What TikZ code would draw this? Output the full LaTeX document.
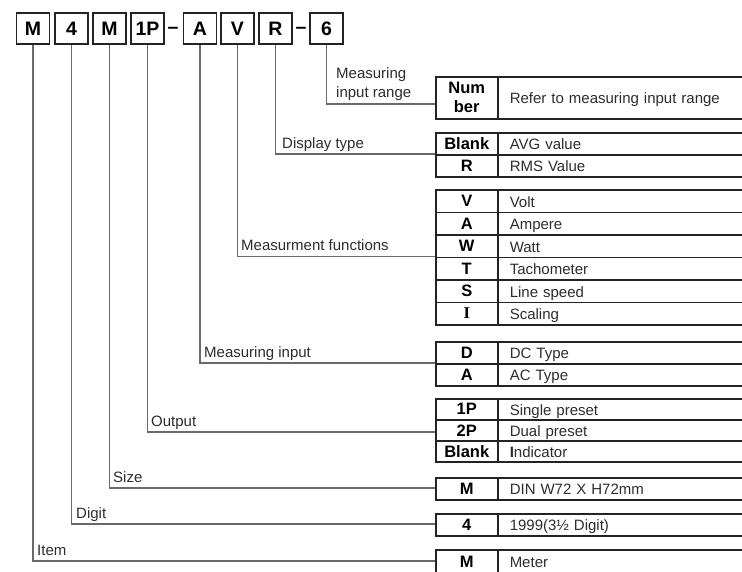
\documentclass[tikz,border=0pt]{standalone}
\usepackage{fontspec}
\setmainfont{Liberation Sans}
\newfontfamily\serifI{Liberation Serif}
\usepackage{tikz}
\usetikzlibrary{positioning}
\definecolor{leadgray}{RGB}{105,105,105}
\definecolor{rulegray}{RGB}{35,35,35}
\definecolor{txtgray}{RGB}{45,45,45}
\tikzset{
  keybox/.style={shape=rectangle,draw=rulegray,line width=1.2pt,minimum width=33pt,minimum height=31pt,inner sep=0pt,font=\bfseries\fontsize{19.5}{20}\selectfont},
  keydash/.style={anchor=base,inner sep=0pt,font=\bfseries\fontsize{19.5}{20}\selectfont},
  codecell/.style={shape=rectangle,draw=rulegray,line width=1.5pt,anchor=north west,minimum width=62pt,inner sep=0pt,align=center,font=\bfseries\fontsize{16.5}{19}\selectfont},
  desccell/.style={shape=rectangle,draw=rulegray,line width=1.5pt,anchor=north west,text width=260pt,text height=13pt,text depth=1pt,inner xsep=12pt,inner ysep=0pt,align=left,text=txtgray,font=\fontsize{15}{17}\selectfont},
  lead/.style={draw=leadgray,line width=1.2pt},
  caption/.style={anchor=base west,inner sep=0pt,text=txtgray,font=\fontsize{15}{19}\selectfont},
}

\begin{document}
\begin{tikzpicture}[x=1pt,y=-1pt]

\useasboundingbox[fill=white] (0,0) rectangle (742,571);

% model code
\node[keybox] (kItem) at (33,28.5) {M};
\node[keybox] (kDigit) at (71.5,28.5) {4};
\node[keybox] (kSize) at (109.5,28.5) {M};
\node[keybox] (kOut) at (147.5,28.5) {1P};
\node[keydash] (dashA) at (173,33.5) {--};
\node[keybox] (kIn) at (200,28.5) {A};
\node[keybox] (kFunc) at (237.5,28.5) {V};
\node[keybox] (kDisp) at (275.5,28.5) {R};
\node[keydash] (dashB) at (301,33.5) {--};
\node[keybox] (kRange) at (326.5,28.5) {6};

% measuring input range
\node[codecell,minimum height=42pt] (rngC) at (435,76) {Num\\ber};
\node[desccell,minimum height=42pt] (rngD) at (497,76) {Refer to measuring input range};
\coordinate (rngIn) at (435,104);
\draw[lead] (kRange.south) |- (rngIn);
\node[caption] (rngL) at (336,78) {Measuring};
\node[caption] (rngL2) at (336,97) {input range};

% display type
\node[codecell,minimum height=22pt] (dispC1) at (435,132) {Blank};
\node[desccell,minimum height=22pt] (dispD1) at (497,132) {AVG value};
\node[codecell,minimum height=22pt] (dispC2) at (435,154) {R};
\node[desccell,minimum height=22pt] (dispD2) at (497,154) {RMS Value};
\coordinate (dispIn) at (435,154);
\draw[lead] (kDisp.south) |- (dispIn);
\node[caption] (dispL) at (282,148) {Display type};

% measurement functions
\foreach \c/\d [count=\i from 0] in {V/Volt,A/Ampere,W/Watt,T/Tachometer,S/Line speed,{\serifI I}/Scaling}
{
  \node[codecell,minimum height=22.5pt] (fn\i C) at (435,{189+22.5*\i}) {\c};
  \node[desccell,minimum height=22.5pt] (fn\i D) at (497,{189+22.5*\i}) {\d};
}
\coordinate (fnIn) at (435,256.5);
\draw[lead] (kFunc.south) |- (fnIn);
\node[caption] (fnL) at (241,250.5) {Measurment functions};

% measuring input
\node[codecell,minimum height=22pt] (inC1) at (435,341) {D};
\node[desccell,minimum height=22pt] (inD1) at (497,341) {DC Type};
\node[codecell,minimum height=22pt] (inC2) at (435,363) {A};
\node[desccell,minimum height=22pt] (inD2) at (497,363) {AC Type};
\coordinate (inIn) at (435,363);
\draw[lead] (kIn.south) |- (inIn);
\node[caption] (inL) at (204,357) {Measuring input};

% output
\node[codecell,minimum height=21pt] (outC1) at (435,398) {1P};
\node[desccell,minimum height=21pt] (outD1) at (497,398) {Single preset};
\node[codecell,minimum height=21pt] (outC2) at (435,419) {2P};
\node[desccell,minimum height=21pt] (outD2) at (497,419) {Dual preset};
\node[codecell,minimum height=21pt] (outC3) at (435,440) {Blank};
\node[desccell,minimum height=21pt] (outD3) at (497,440) {\textbf{I}ndicator};
\coordinate (outIn) at (435,432);
\draw[lead] (kOut.south) |- (outIn);
\node[caption] (outL) at (151,426) {Output};

% size
\node[codecell,minimum height=22pt] (sizeC) at (435,477) {M};
\node[desccell,minimum height=22pt] (sizeD) at (497,477) {DIN W72 X H72mm};
\coordinate (sizeIn) at (435,488);
\draw[lead] (kSize.south) |- (sizeIn);
\node[caption] (sizeL) at (113,482) {Size};

% digit
\node[codecell,minimum height=22pt] (digC) at (435,513) {4};
\node[desccell,minimum height=22pt] (digD) at (497,513) {1999(3½ Digit)};
\coordinate (digIn) at (435,524);
\draw[lead] (kDigit.south) |- (digIn);
\node[caption] (digL) at (76,518) {Digit};

% item
\node[codecell,minimum height=24pt] (itemC) at (435,549) {M};
\node[desccell,minimum height=24pt] (itemD) at (497,549) {Meter};
\coordinate (itemIn) at (435,561);
\draw[lead] (kItem.south) |- (itemIn);
\node[caption] (itemL) at (37,555) {Item};

\end{tikzpicture}
\end{document}
